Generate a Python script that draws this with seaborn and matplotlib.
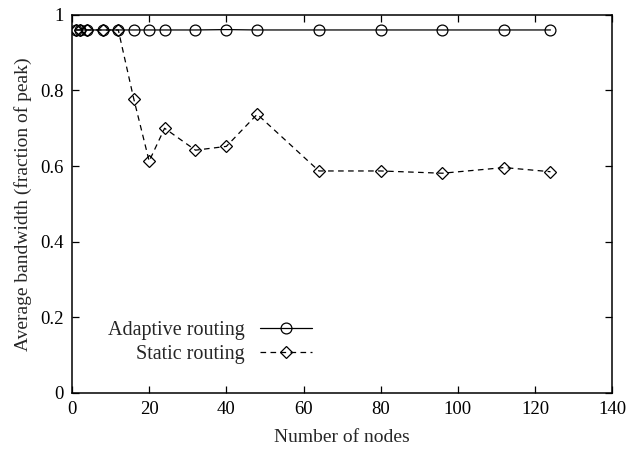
import matplotlib
matplotlib.use("Agg")
import matplotlib.pyplot as plt
import seaborn as sns
import pandas as pd

# Number of nodes and average bandwidth (fraction of peak) per routing scheme
nodes = [1, 2, 4, 8, 12, 16, 20, 24, 32, 40, 48, 64, 80, 96, 112, 124]
adaptive_bw = [0.96, 0.96, 0.96, 0.96, 0.96, 0.96, 0.96, 0.96, 0.96, 0.961,
               0.96, 0.96, 0.96, 0.96, 0.96, 0.96]
static_bw = [0.96, 0.96, 0.96, 0.96, 0.96, 0.778, 0.613, 0.700, 0.642, 0.652,
             0.737, 0.587, 0.587, 0.581, 0.596, 0.585]
series_names = ["Adaptive routing", "Static routing"]
x_ticks = [0, 20, 40, 60, 80, 100, 120, 140]
y_ticks = [0, 0.2, 0.4, 0.6, 0.8, 1.0]
y_tick_labels = ["0", "0.2", "0.4", "0.6", "0.8", "1"]

sns.set_theme(style="ticks")
plt.rcParams["font.family"] = ["Liberation Serif", "DejaVu Serif"]
plt.rcParams["font.size"] = 14

df = pd.DataFrame({
    "nodes": nodes + nodes,
    "bw": adaptive_bw + static_bw,
    "scheme": [series_names[0]] * len(nodes) + [series_names[1]] * len(nodes),
})

fig = plt.figure(figsize=(6.26, 4.5), dpi=100)
ax = fig.add_axes([0.115, 0.127, 0.863, 0.840])

sns.lineplot(data=df[df.scheme == series_names[0]], x="nodes", y="bw", ax=ax,
             color="black", linewidth=0.9, marker="o", markersize=7.8,
             markerfacecolor="none", markeredgecolor="black",
             markeredgewidth=0.9, label=series_names[0], errorbar=None)
sns.lineplot(data=df[df.scheme == series_names[1]], x="nodes", y="bw", ax=ax,
             color="black", linewidth=0.9, marker="D", markersize=6.3,
             markerfacecolor="none", markeredgecolor="black",
             markeredgewidth=0.9, linestyle=(0, (4.5, 3.5)),
             label=series_names[1], errorbar=None)

ax.set_xlim(0, 140)
ax.set_ylim(0, 1)
ax.set_xticks(x_ticks)
ax.set_xticklabels([str(t) for t in x_ticks])
ax.set_yticks(y_ticks)
ax.set_yticklabels(y_tick_labels)
ax.tick_params(direction="in", top=True, right=True, length=5, width=0.9,
               labelsize=13.5, pad=6, colors="black")
for s in ax.spines.values():
    s.set_linewidth(1.1)
    s.set_color("black")

ax.set_xlabel("Number of nodes", fontsize=14, labelpad=8)
ax.set_ylabel("Average bandwidth (fraction of peak)", fontsize=14, labelpad=6)

ax.legend(loc="lower right", bbox_to_anchor=(0.445, 0.075), frameon=False,
          markerfirst=False, handlelength=2.6, handletextpad=0.75,
          labelspacing=0.25, fontsize=14.5, borderaxespad=0,
          borderpad=0)

fig.savefig("out.png", dpi=100)
